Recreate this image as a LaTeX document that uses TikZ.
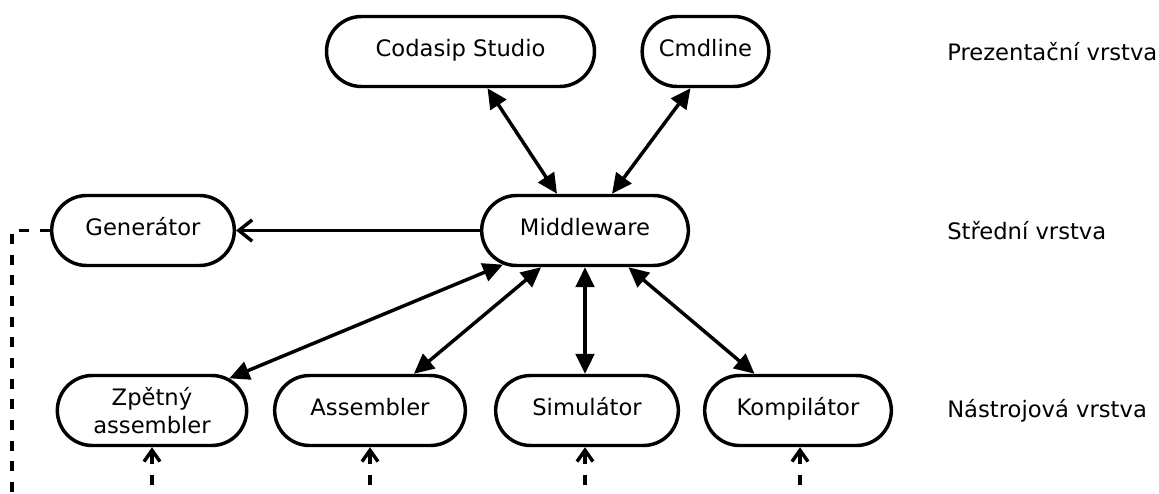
\documentclass[tikz,border=0pt]{standalone}
\usepackage{fontspec}
\setmainfont{DejaVu Sans}
\usetikzlibrary{shapes.misc,arrows.meta,calc}

\begin{document}
\begin{tikzpicture}[
  x=0.75pt, y=-0.75pt,
  every node/.style={font=\fontsize{17pt}{20.5pt}\selectfont},
  block/.style={rounded rectangle, draw, line width=2.6pt, inner sep=0pt,
    minimum height=52.5pt, align=center},
  oneline/.style={block, text height=0.76em, text depth=0pt},
  layer/.style={anchor=west, inner sep=0pt},
  biarrow/.style={line width=2.6pt,
    {Triangle[length=15pt,width=14pt]}-{Triangle[length=15pt,width=14pt]}},
  genarrow/.style={line width=2.6pt, -{Straight Barb[length=10pt,width=16pt]}},
  dashline/.style={line width=2.6pt, dash pattern=on 7.5pt off 8pt},
  dasharrow/.style={line width=2.6pt, dash pattern=on 7.5pt off 8pt,
    dash phase=9.5pt, -{Straight Barb[length=8.5pt,width=12pt]}}
]
\useasboundingbox (0,0) rectangle (1159,493);

% presentation layer
\node[oneline, minimum width=201pt] (studio) at (460.5,51.5) {Codasip Studio};
\node[oneline, minimum width=95pt]  (cmd)    at (705.5,51.5) {Cmdline};

% middle layer
\node[oneline, minimum width=155pt] (mid) at (585,230.5) {Middleware};
\node[oneline, minimum width=137pt] (gen) at (143,230.5) {Generátor};

% tool layer
\node[block, minimum width=142pt] (zpet) at (152,410.5) {Zpětný\\assembler};
\node[oneline, minimum width=143pt] (asm)  at (370,410.5) {Assembler};
\node[oneline, minimum width=137pt] (sim)  at (587,410.5) {Simulátor};
\node[oneline, minimum width=140pt] (komp) at (798,410.5) {Kompilátor};

% layer captions
\node[layer] (l1) at (947,51.5)  {Prezentační vrstva};
\node[layer] (l2) at (947,230.5) {Střední vrstva};
\node[layer] (l3) at (947,410.5) {Nástrojová vrstva};

% links between the layers
\draw[biarrow] ($(studio.south)+(27,0)$) -- ($(mid.north)+(-28,0)$);
\draw[biarrow] ($(cmd.south)+(-15,0)$) -- ($(mid.north)+(27,0)$);
\draw[genarrow] (mid.west) -- (gen.east);
\draw[biarrow] (zpet) -- (mid);
\draw[biarrow] (asm) -- (mid);
\draw[biarrow] (sim.north -| mid.south) -- (mid.south);
\draw[biarrow] (komp) -- (mid);

% dashed feeds from below
\coordinate (lb) at (12,493);
\draw[dashline] (gen.west) -| (lb);
\coordinate (b1) at (152,493);
\coordinate (b2) at (370,493);
\coordinate (b3) at (585,493);
\coordinate (b4) at (800,493);
\draw[dasharrow] (b1) -- (zpet.south);
\draw[dasharrow] (b2) -- (asm.south);
\draw[dasharrow] (b3) -- (b3 |- sim.south);
\draw[dasharrow] (b4) -- (b4 |- komp.south);
\end{tikzpicture}
\end{document}
